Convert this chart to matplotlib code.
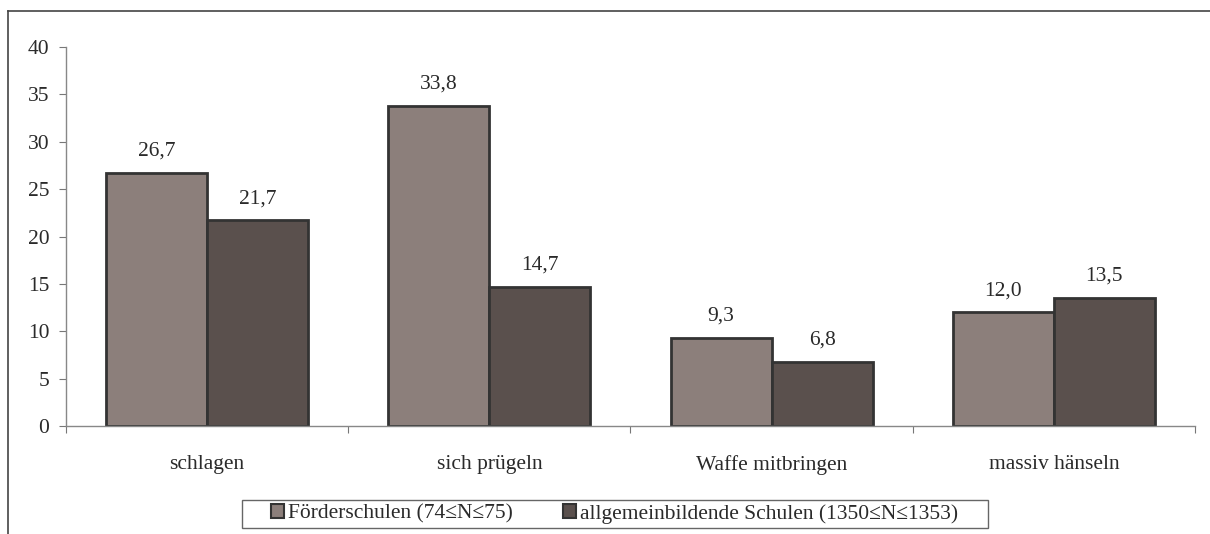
import matplotlib.pyplot as plt
import numpy as np
from matplotlib.patches import Patch, Rectangle
from matplotlib.lines import Line2D

plt.rcParams['font.family'] = ['Liberation Serif', 'DejaVu Serif']

categories = ['schlagen', 'sich prügeln', 'Waffe mitbringen', 'massiv hänseln']
foerder = [26.7, 33.8, 9.3, 12.0]
allgemein = [21.7, 14.7, 6.8, 13.5]
series_labels = ['Förderschulen (74≤N≤75)', 'allgemeinbildende Schulen (1350≤N≤1353)']
colors = ['#8c7f7b', '#5a504d']
text_color = '#2a2a2a'
fs = 15.5

W, H = 1210, 534
fig = plt.figure(figsize=(W / 100, H / 100), dpi=100)
ax = fig.add_axes([0.0545, 0.2022, 0.9331, 0.7098])

x = np.arange(len(categories))
width = 0.358
b1 = ax.bar(x - width / 2, foerder, width, color=colors[0], edgecolor='#333333', linewidth=2)
b2 = ax.bar(x + width / 2, allgemein, width, color=colors[1], edgecolor='#333333', linewidth=2)

# value labels with German decimal comma
for bars, vals in ((b1, foerder), (b2, allgemein)):
    for bar, v in zip(bars, vals):
        ax.text(bar.get_x() + bar.get_width() / 2, v + 1.8, f'{v:.1f}'.replace('.', ','),
                ha='center', va='baseline', fontsize=fs, color=text_color)

ax.set_xlim(-0.5, len(categories) - 0.5)
ax.set_ylim(0, 40)
ax.set_yticks(np.arange(0, 41, 5))
# group separators as major ticks, category names on minor ticks
ax.set_xticks(np.arange(-0.5, len(categories), 1.0))
ax.set_xticklabels([])
ax.set_xticks(x, minor=True)
ax.set_xticklabels(categories, minor=True, color=text_color)
ax.tick_params(axis='x', which='minor', length=0, pad=21, labelsize=fs)
ax.tick_params(axis='x', which='major', length=5, color='#777777', direction='out')
ax.tick_params(axis='y', length=5, color='#777777', labelsize=fs, pad=7, labelcolor=text_color)

for s in ('top', 'right'):
    ax.spines[s].set_visible(False)
for s in ('left', 'bottom'):
    ax.spines[s].set_color('#888888')
    ax.spines[s].set_linewidth(1)

handles = [Patch(facecolor=colors[0], edgecolor='#333333', linewidth=1.5),
           Patch(facecolor=colors[1], edgecolor='#333333', linewidth=1.5)]
leg = fig.legend(handles, series_labels, loc='center', bbox_to_anchor=(0.508, 0.0375),
                 ncol=2, fontsize=fs, frameon=False, handlelength=0.6,
                 handleheight=0.6, handletextpad=0.2, columnspacing=2.3,
                 borderpad=0.2, borderaxespad=0)
for t in leg.get_texts():
    t.set_color(text_color)

# legend box, wider than the entries
fig.add_artist(Rectangle((242 / W, 1 - 528 / H), 746 / W, 28 / H, transform=fig.transFigure,
                         fill=False, edgecolor='#666666', lw=1))

# outer chart frame (top and left edges)
fig.add_artist(Line2D([8 / W, 1.0], [1 - 11 / H, 1 - 11 / H], color='#444444', lw=1.2))
fig.add_artist(Line2D([8 / W, 8 / W], [0, 1 - 11 / H], color='#444444', lw=1.2))

fig.savefig('out.png', dpi=100)
